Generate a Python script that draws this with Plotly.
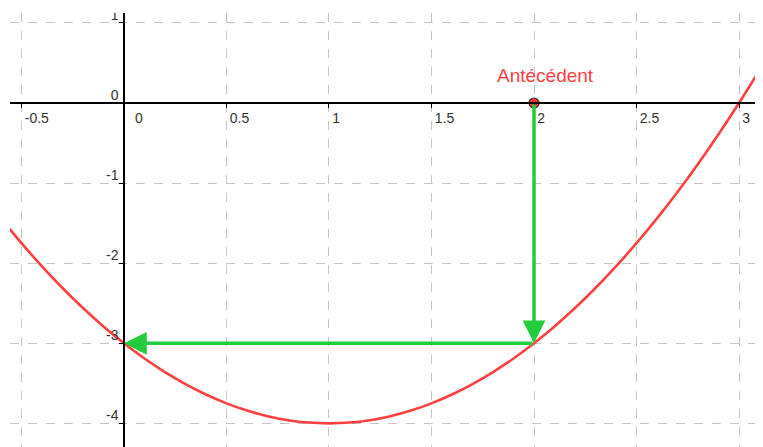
import plotly.graph_objects as go

# Curve points
curve_x = [-0.6, -0.5, -0.4, -0.3, -0.2, -0.1, 0.0, 0.1, 0.2, 0.3, 0.4, 0.5, 0.6, 0.7, 0.8, 0.9, 1.0,
           1.1, 1.2, 1.3, 1.4, 1.5, 1.6, 1.7, 1.8, 1.9, 2.0, 2.1, 2.2, 2.3, 2.4, 2.5, 2.6, 2.7,
           2.8, 2.9, 3.0, 3.1, 3.2]
curve_y = [-1.44, -1.75, -2.04, -2.31, -2.56, -2.79, -3.0, -3.19, -3.36, -3.51, -3.64, -3.75, -3.84,
           -3.91, -3.96, -3.99, -4.0, -3.99, -3.96, -3.91, -3.84, -3.75, -3.64, -3.51, -3.36, -3.19,
           -3.0, -2.79, -2.56, -2.31, -2.04, -1.75, -1.44, -1.11, -0.76, -0.39, 0.0, 0.41, 0.84]

point_x = [2.0]
point_y = [0.0]
point_label = "Antécédent"
image_x = 0.0
image_y = -3.0

x_tickvals = [-0.5, 0, 0.5, 1, 1.5, 2, 2.5, 3]
x_ticktext = ["-0.5", "\u00a0\u00a00", "0.5", "1", "1.5", "2", "2.5", "3"]
y_tickvals = [1, 0, -1, -2, -3, -4]
y_ticktext = ["1", "0", "-1", "-2", "-3", "-4"]

x_range = [-0.556, 3.117]
y_range = [-4.295, 1.124]

RED = "#ff4040"
GREEN = "#22cc3a"

fig = go.Figure()
fig.add_trace(go.Scatter(x=curve_x, y=curve_y, mode="lines",
                         line=dict(color=RED, width=2.6, shape="spline"),
                         hoverinfo="skip"))

# arrows
fig.add_annotation(x=point_x[0], y=image_y, ax=point_x[0], ay=point_y[0],
                   xref="x", yref="y", axref="x", ayref="y", text="",
                   showarrow=True, arrowhead=2, arrowsize=1.3, arrowwidth=3.5,
                   arrowcolor=GREEN, standoff=0)
fig.add_annotation(x=image_x, y=image_y, ax=point_x[0], ay=image_y,
                   xref="x", yref="y", axref="x", ayref="y", text="",
                   showarrow=True, arrowhead=2, arrowsize=1.3, arrowwidth=3.5,
                   arrowcolor=GREEN, standoff=0)

fig.add_trace(go.Scatter(x=point_x, y=point_y, mode="markers",
                         marker=dict(size=10, color="#ff3333", line=dict(color="#333333", width=1.2)),
                         hoverinfo="skip"))

fig.add_annotation(x=point_x[0], y=point_y[0], xref="x", yref="y", text=point_label,
                   showarrow=False, xshift=11, yshift=28,
                   font=dict(family="Liberation Sans, Arial", size=19, color=RED))

xpos = (0 - y_range[0]) / (y_range[1] - y_range[0])
ypos = (0 - x_range[0]) / (x_range[1] - x_range[0])

fig.update_layout(
    width=755, height=439,
    margin=dict(l=2, r=0, t=5, b=0, autoexpand=False),
    paper_bgcolor="white", plot_bgcolor="white",
    showlegend=False,
    font=dict(family="Liberation Sans, Arial", size=14, color="#333333"),
    xaxis=dict(range=x_range, tickmode="array", tickvals=x_tickvals, ticktext=x_ticktext,
               showgrid=True, gridcolor="#c4c4c4", griddash="dash", gridwidth=1,
               zeroline=False, showline=True, linecolor="black", linewidth=1.5,
               ticks="outside", ticklen=4, tickcolor="black", tickwidth=1,
               anchor="free", position=xpos, ticklabelposition="outside right",
               ticklabelshift=2, ticklabelstandoff=2, automargin=False),
    yaxis=dict(range=y_range, tickmode="array", tickvals=y_tickvals, ticktext=y_ticktext,
               showgrid=True, gridcolor="#c4c4c4", griddash="dash", gridwidth=1,
               zeroline=False, showline=True, linecolor="black", linewidth=1.5,
               ticks="outside", ticklen=4, tickcolor="black", tickwidth=1,
               anchor="free", position=ypos, ticklabelposition="outside top",
               ticklabeloverflow="allow",
               ticklabelshift=2, ticklabelstandoff=2, automargin=False),
    shapes=[dict(type="rect", xref="paper", yref="paper", x0=-0.05, x1=1.05, y0=1.0, y1=1.1,
                 fillcolor="white", line=dict(width=0), layer="above")],
)

fig.write_html("out.html")
